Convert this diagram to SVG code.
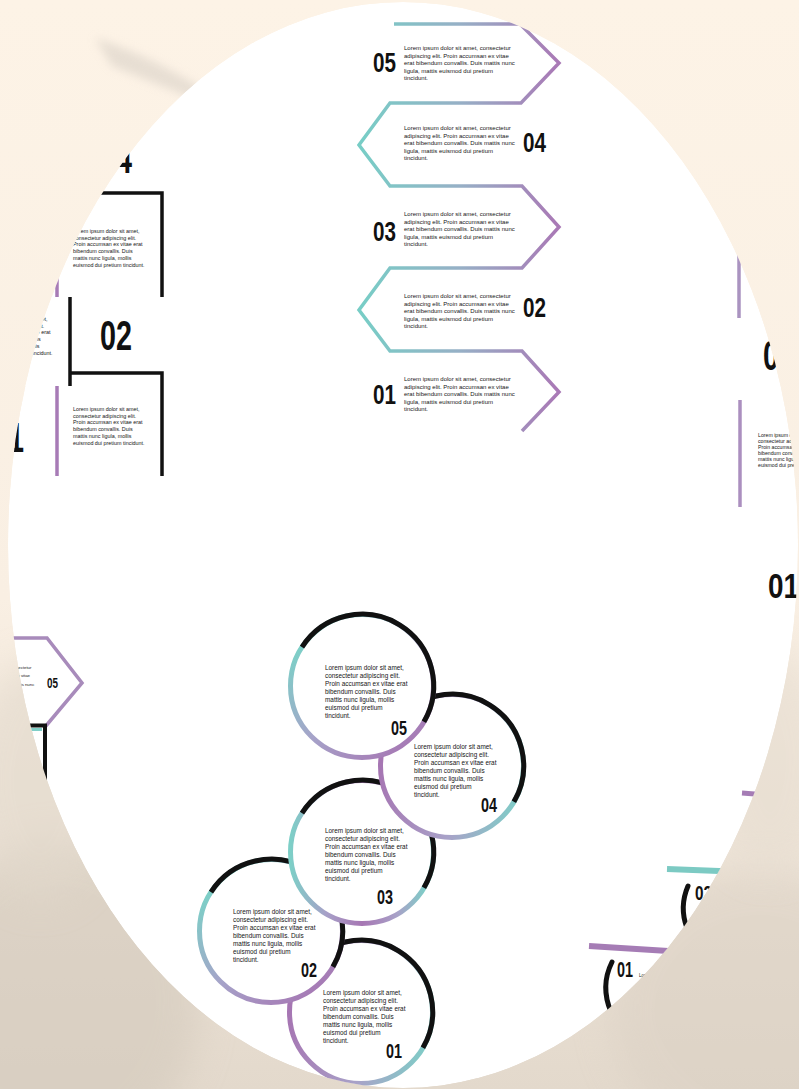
<svg xmlns="http://www.w3.org/2000/svg" width="799" height="1089" viewBox="0 0 799 1089">
<defs>
<style>
.t{font-family:"Liberation Sans",Arial,sans-serif;fill:#151515}
.n{font-family:"Liberation Sans",Arial,sans-serif;font-weight:bold;fill:#111}
.blk{fill:none;stroke:#111;stroke-width:3.5}
.pur{fill:none;stroke:#a77bb6;stroke-width:3.5}
.cir{fill:#fff;stroke-width:5}
.arc{fill:none;stroke:#111;stroke-width:5}
</style>
<clipPath id="oval"><ellipse cx="403" cy="545" rx="395" ry="543"/></clipPath>
<linearGradient id="gZig" gradientUnits="userSpaceOnUse" x1="362" y1="0" x2="556" y2="0">
<stop offset="0" stop-color="#78cdc6"/><stop offset="0.5" stop-color="#96b0c6"/><stop offset="1" stop-color="#a97ab6"/>
</linearGradient>
<linearGradient id="gBot" x1="0" y1="0" x2="1" y2="0">
<stop offset="0" stop-color="#a77bb6"/><stop offset="0.6" stop-color="#a9a0c6"/><stop offset="1" stop-color="#84d3cc"/>
</linearGradient>
<linearGradient id="gA" x1="0.1" y1="0.2" x2="0.8" y2="1">
<stop offset="0" stop-color="#7dcfc7"/><stop offset="0.5" stop-color="#a6a3c9"/><stop offset="1" stop-color="#a676b3"/>
</linearGradient>
<linearGradient id="gB" x1="0" y1="0.5" x2="1" y2="0.7">
<stop offset="0" stop-color="#a676b3"/><stop offset="0.55" stop-color="#a8a2c8"/><stop offset="1" stop-color="#7dcfc7"/>
</linearGradient>
<linearGradient id="gC" x1="0" y1="0" x2="1" y2="0">
<stop offset="0" stop-color="#7dcfc7"/><stop offset="0.25" stop-color="#a7a0c8"/><stop offset="0.5" stop-color="#a676b3"/><stop offset="0.75" stop-color="#a8a2c8"/><stop offset="0.95" stop-color="#7dcfc7"/>
</linearGradient>
<linearGradient id="gBg" x1="0" y1="0" x2="0" y2="1">
<stop offset="0" stop-color="#fdf3e6"/><stop offset="0.55" stop-color="#f9efe3"/><stop offset="1" stop-color="#e3d9cc"/>
</linearGradient>
<filter id="blur" x="-50%" y="-50%" width="200%" height="200%"><feGaussianBlur stdDeviation="18"/></filter>
<filter id="blur2" x="-50%" y="-50%" width="200%" height="200%"><feGaussianBlur stdDeviation="5"/></filter>
</defs>

<g id="background">
<rect width="799" height="1089" fill="url(#gBg)"/>
<ellipse cx="60" cy="1000" rx="140" ry="160" fill="#d3c9bc" opacity="0.6" filter="url(#blur)"/>
<ellipse cx="760" cy="1010" rx="150" ry="140" fill="#d9cfc2" opacity="0.5" filter="url(#blur)"/>
<ellipse cx="40" cy="780" rx="70" ry="120" fill="#e2d9cc" opacity="0.6" filter="url(#blur)"/>
<ellipse cx="770" cy="760" rx="60" ry="110" fill="#e6ddd0" opacity="0.6" filter="url(#blur)"/>
<path d="M95,38 Q170,62 245,118 Q175,92 112,66 Z" fill="#d6cec4" opacity="0.55" filter="url(#blur2)"/>
</g>

<g clip-path="url(#oval)">
<ellipse cx="403" cy="545" rx="395" ry="543" fill="#fff"/>

<!-- top zigzag arrows -->
<g id="arrow-outline">
<path d="M394,24 H520 L559,63 L521,103 H390 L359,145 L390,186 H522 L559,227 L522,268 H390 L359,310 L390,351 H522 L559,392 L522,431" fill="none" stroke="url(#gZig)" stroke-width="3.5"/>
</g>
<g id="step05">
<text class="n" x="373" y="72" font-size="28" textLength="23" lengthAdjust="spacingAndGlyphs">05</text>
<text class="t" font-size="6"><tspan x="404" y="50">Lorem ipsum dolor sit amet, consectetur</tspan><tspan x="404" y="57.6">adipiscing elit. Proin accumsan ex vitae</tspan><tspan x="404" y="65.2">erat bibendum convallis. Duis mattis nunc</tspan><tspan x="404" y="72.8">ligula, mattis euismod dui pretium</tspan><tspan x="404" y="80.4">tincidunt.</tspan></text>
</g>
<g id="step04">
<text class="n" x="523" y="152" font-size="28" textLength="23" lengthAdjust="spacingAndGlyphs">04</text>
<text class="t" font-size="6"><tspan x="404" y="130">Lorem ipsum dolor sit amet, consectetur</tspan><tspan x="404" y="137.6">adipiscing elit. Proin accumsan ex vitae</tspan><tspan x="404" y="145.2">erat bibendum convallis. Duis mattis nunc</tspan><tspan x="404" y="152.8">ligula, mattis euismod dui pretium</tspan><tspan x="404" y="160.4">tincidunt.</tspan></text>
</g>
<g id="step03">
<text class="n" x="373" y="241" font-size="28" textLength="23" lengthAdjust="spacingAndGlyphs">03</text>
<text class="t" font-size="6"><tspan x="404" y="216">Lorem ipsum dolor sit amet, consectetur</tspan><tspan x="404" y="223.6">adipiscing elit. Proin accumsan ex vitae</tspan><tspan x="404" y="231.2">erat bibendum convallis. Duis mattis nunc</tspan><tspan x="404" y="238.8">ligula, mattis euismod dui pretium</tspan><tspan x="404" y="246.4">tincidunt.</tspan></text>
</g>
<g id="step02">
<text class="n" x="523" y="317" font-size="28" textLength="23" lengthAdjust="spacingAndGlyphs">02</text>
<text class="t" font-size="6"><tspan x="404" y="298">Lorem ipsum dolor sit amet, consectetur</tspan><tspan x="404" y="305.6">adipiscing elit. Proin accumsan ex vitae</tspan><tspan x="404" y="313.2">erat bibendum convallis. Duis mattis nunc</tspan><tspan x="404" y="320.8">ligula, mattis euismod dui pretium</tspan><tspan x="404" y="328.4">tincidunt.</tspan></text>
</g>
<g id="step01">
<text class="n" x="373" y="404" font-size="28" textLength="23" lengthAdjust="spacingAndGlyphs">01</text>
<text class="t" font-size="6"><tspan x="404" y="381">Lorem ipsum dolor sit amet, consectetur</tspan><tspan x="404" y="388.6">adipiscing elit. Proin accumsan ex vitae</tspan><tspan x="404" y="396.2">erat bibendum convallis. Duis mattis nunc</tspan><tspan x="404" y="403.8">ligula, mattis euismod dui pretium</tspan><tspan x="404" y="411.4">tincidunt.</tspan></text>
</g>

<!-- left staircase boxes -->
<g id="box-low">
<rect x="57" y="373" width="105" height="103" fill="#fff"/>
<path class="blk" d="M57,373 H162 V476"/>
<path class="pur" d="M57,373 V476"/>
<path d="M57,476 H163" stroke="url(#gBot)" stroke-width="3.5"/>
<text class="t" font-size="5.4"><tspan x="73" y="411">Lorem ipsum dolor sit amet,</tspan><tspan x="73" y="417.7">consectetur adipiscing elit.</tspan><tspan x="73" y="424.4">Proin accumsan ex vitae erat</tspan><tspan x="73" y="431.1">bibendum convallis. Duis</tspan><tspan x="73" y="437.8">mattis nunc ligula, mollis</tspan><tspan x="73" y="444.5">euismod dui pretium tincidunt.</tspan></text>
</g>
<g id="box-mid">
<rect x="-35" y="297" width="105" height="89" fill="#fff"/>
<path class="blk" d="M70,297 V386"/>
<path d="M-35,386 H72" stroke="url(#gBot)" stroke-width="3.5"/>
<text class="t" font-size="5.4"><tspan x="-19" y="321">Lorem ipsum dolor sit amet,</tspan><tspan x="-19" y="327.7">consectetur adipiscing elit.</tspan><tspan x="-19" y="334.4">Proin accumsan ex vitae erat</tspan><tspan x="-19" y="341.1">bibendum convallis. Duis</tspan><tspan x="-19" y="347.8">mattis nunc ligula, mollis</tspan><tspan x="-19" y="354.5">euismod dui pretium tincidunt.</tspan></text>
</g>
<g id="box-top">
<rect x="57" y="193" width="105" height="104" fill="#fff"/>
<path class="blk" d="M57,193 H162 V297"/>
<path class="pur" d="M57,193 V297"/>
<path d="M57,297 H163" stroke="url(#gBot)" stroke-width="3.5"/>
<text class="t" font-size="5.4"><tspan x="73" y="233">Lorem ipsum dolor sit amet,</tspan><tspan x="73" y="239.7">consectetur adipiscing elit.</tspan><tspan x="73" y="246.4">Proin accumsan ex vitae erat</tspan><tspan x="73" y="253.1">bibendum convallis. Duis</tspan><tspan x="73" y="259.8">mattis nunc ligula, mollis</tspan><tspan x="73" y="266.5">euismod dui pretium tincidunt.</tspan></text>
</g>
<g id="label-left">
<text class="n" x="100" y="173" font-size="42" textLength="32" lengthAdjust="spacingAndGlyphs">04</text>
<text class="n" x="100" y="350" font-size="42" textLength="32" lengthAdjust="spacingAndGlyphs">02</text>
<text class="n" x="-8" y="452" font-size="42" textLength="32" lengthAdjust="spacingAndGlyphs">01</text>
</g>

<!-- right edge boxes -->
<g id="box-right-top">
<path d="M739,180 V318" stroke="#aa93c0" stroke-width="3.5" fill="none"/>
<path d="M739,318 H800" stroke="url(#gBot)" stroke-width="3.5"/>
<text class="n" x="763" y="370" font-size="42" textLength="32" lengthAdjust="spacingAndGlyphs">02</text>
</g>
<g id="box-right-low">
<path d="M740,400 V507" stroke="#ab8fbf" stroke-width="3.5" fill="none"/>
<path d="M740,507 H850" stroke="url(#gBot)" stroke-width="3.5"/>
<text class="t" font-size="5.2"><tspan x="758" y="437">Lorem ipsum dolor sit amet,</tspan><tspan x="758" y="443">consectetur adipiscing elit.</tspan><tspan x="758" y="449">Proin accumsan ex vitae erat</tspan><tspan x="758" y="455">bibendum convallis. Duis</tspan><tspan x="758" y="461">mattis nunc ligula, mollis</tspan><tspan x="758" y="467">euismod dui pretium tincidunt.</tspan></text>
<text class="n" x="768" y="598" font-size="35" textLength="31" lengthAdjust="spacingAndGlyphs">01</text>
</g>

<!-- left middle chevron fragment -->
<g id="chevron-left">
<path d="M-20,638 H47 L82,683 L45,727" fill="none" stroke="#a88bbb" stroke-width="3.5"/>
<path d="M-20,729.5 H42" stroke="#80cfc8" stroke-width="3"/>
<path d="M-20,725.5 H45 V800" fill="none" stroke="#111" stroke-width="4"/>
<text class="t" font-size="4.3"><tspan x="-45" y="669">Lorem ipsum dolor sit amet, consectetur</tspan><tspan x="-45" y="677">adipiscing elit. Proin accumsan ex vitae</tspan><tspan x="-45" y="686">erat bibendum convallis. Duis mattis nunc</tspan><tspan x="-45" y="694">ligula, mattis euismod dui pretium</tspan><tspan x="-45" y="702">tincidunt.</tspan></text>
<text class="n" x="47" y="688" font-size="15" textLength="11" lengthAdjust="spacingAndGlyphs">05</text>
</g>

<!-- bottom right perspective fragment -->
<g id="steps-right">
<path d="M742,793 L780,796" stroke="#a57cb5" stroke-width="5"/>
<path d="M667,869 L745,872" stroke="#7ccac3" stroke-width="6"/>
<path d="M688,886 Q679,907 687,928" fill="none" stroke="#111" stroke-width="5" stroke-linecap="round"/>
<text class="n" x="695" y="900" font-size="21" textLength="17" lengthAdjust="spacingAndGlyphs">02</text>
<path d="M589,946 L700,953" stroke="#a57cb5" stroke-width="6"/>
<path d="M612,962 Q600,986 611,1012" fill="none" stroke="#111" stroke-width="5" stroke-linecap="round"/>
<text class="n" x="617" y="977" font-size="22" textLength="16" lengthAdjust="spacingAndGlyphs">01</text>
<text class="t" font-size="4.5" x="639" y="977">Lorem ipsum dolor sit amet,</text>
</g>

<!-- circles chain (bottom to top) -->
<g id="circle01">
<circle class="cir" cx="361" cy="1012" r="71.5" stroke="url(#gB)"/>
<path class="arc" d="M301,973.1 A71.5,71.5 0 0 1 422.9,1047.8"/>
<text class="t" font-size="6.4"><tspan x="323" y="995">Lorem ipsum dolor sit amet,</tspan><tspan x="323" y="1003">consectetur adipiscing elit.</tspan><tspan x="323" y="1011">Proin accumsan ex vitae erat</tspan><tspan x="323" y="1019">bibendum convallis. Duis</tspan><tspan x="323" y="1027">mattis nunc ligula, mollis</tspan><tspan x="323" y="1035">euismod dui pretium</tspan><tspan x="323" y="1043">tincidunt.</tspan></text>
<text class="n" x="386" y="1058" font-size="19.5" textLength="16" lengthAdjust="spacingAndGlyphs">01</text>
</g>
<g id="circle02">
<circle class="cir" cx="271" cy="931" r="71.5" stroke="url(#gA)"/>
<path class="arc" d="M211,892.1 A71.5,71.5 0 0 1 332.9,966.8"/>
<text class="t" font-size="6.4"><tspan x="233" y="914">Lorem ipsum dolor sit amet,</tspan><tspan x="233" y="922">consectetur adipiscing elit.</tspan><tspan x="233" y="930">Proin accumsan ex vitae erat</tspan><tspan x="233" y="938">bibendum convallis. Duis</tspan><tspan x="233" y="946">mattis nunc ligula, mollis</tspan><tspan x="233" y="954">euismod dui pretium</tspan><tspan x="233" y="962">tincidunt.</tspan></text>
<text class="n" x="301" y="977" font-size="19.5" textLength="16" lengthAdjust="spacingAndGlyphs">02</text>
</g>
<g id="circle03">
<circle class="cir" cx="362" cy="852" r="71.5" stroke="url(#gC)"/>
<path class="arc" d="M302,813.1 A71.5,71.5 0 0 1 423.9,887.8"/>
<text class="t" font-size="6.4"><tspan x="325" y="833">Lorem ipsum dolor sit amet,</tspan><tspan x="325" y="841">consectetur adipiscing elit.</tspan><tspan x="325" y="849">Proin accumsan ex vitae erat</tspan><tspan x="325" y="857">bibendum convallis. Duis</tspan><tspan x="325" y="865">mattis nunc ligula, mollis</tspan><tspan x="325" y="873">euismod dui pretium</tspan><tspan x="325" y="881">tincidunt.</tspan></text>
<text class="n" x="377" y="904" font-size="19.5" textLength="16" lengthAdjust="spacingAndGlyphs">03</text>
</g>
<g id="circle04">
<circle class="cir" cx="452" cy="766" r="71.5" stroke="url(#gB)"/>
<path class="arc" d="M392,727.1 A71.5,71.5 0 0 1 513.9,801.8"/>
<text class="t" font-size="6.4"><tspan x="414" y="749">Lorem ipsum dolor sit amet,</tspan><tspan x="414" y="757">consectetur adipiscing elit.</tspan><tspan x="414" y="765">Proin accumsan ex vitae erat</tspan><tspan x="414" y="773">bibendum convallis. Duis</tspan><tspan x="414" y="781">mattis nunc ligula, mollis</tspan><tspan x="414" y="789">euismod dui pretium</tspan><tspan x="414" y="797">tincidunt.</tspan></text>
<text class="n" x="481" y="812" font-size="19.5" textLength="16" lengthAdjust="spacingAndGlyphs">04</text>
</g>
<g id="circle05">
<circle class="cir" cx="362" cy="686" r="71.5" stroke="url(#gA)"/>
<path class="arc" d="M302,647.1 A71.5,71.5 0 0 1 423.9,721.8"/>
<text class="t" font-size="6.4"><tspan x="325" y="670">Lorem ipsum dolor sit amet,</tspan><tspan x="325" y="678">consectetur adipiscing elit.</tspan><tspan x="325" y="686">Proin accumsan ex vitae erat</tspan><tspan x="325" y="694">bibendum convallis. Duis</tspan><tspan x="325" y="702">mattis nunc ligula, mollis</tspan><tspan x="325" y="710">euismod dui pretium</tspan><tspan x="325" y="718">tincidunt.</tspan></text>
<text class="n" x="391" y="735" font-size="19.5" textLength="16" lengthAdjust="spacingAndGlyphs">05</text>
</g>
</g>
</svg>
